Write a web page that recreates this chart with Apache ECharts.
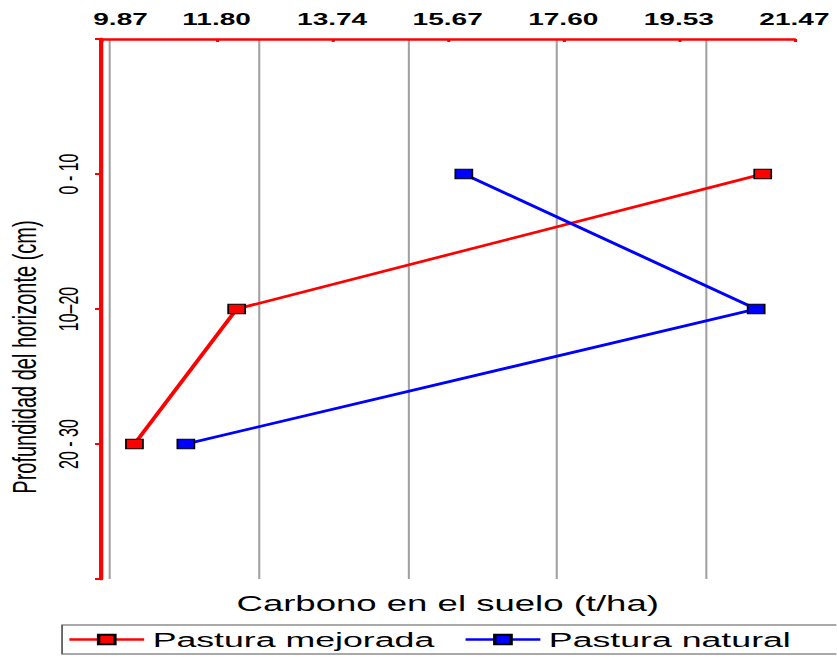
<!DOCTYPE html>
<html>
<head>
<meta charset="utf-8">
<script src="https://cdn.jsdelivr.net/npm/echarts@6/dist/echarts.min.js"></script>
<style>
  html, body { margin: 0; padding: 0; background: #ffffff; overflow: hidden; }
  /* the whole figure is drawn narrow and widened horizontally */
  #chart { width: 492.35px; height: 657px; transform: scaleX(1.7); transform-origin: 0 0; }
</style>
</head>
<body>
<div id="chart"></div>
<script>
// Depth horizons (category positions 1..3 on the depth axis)
const depthCategories = ['0 - 10', '10\u201320', '20 - 30'];
const depthPositions = [1, 2, 3];

// Soil carbon (t/ha) per horizon
const pasturaMejorada = [20.94, 12.14, 10.43];
const pasturaNatural = [15.94, 20.83, 11.29];

// Carbon axis: range and printed tick labels
const carbonMin = 9.87;
const carbonMax = 21.47;
const carbonTickLabels = ['9.87', '11.80', '13.74', '15.67', '17.60', '19.53', '21.47'];
const gridValues = [10, 12.5, 15, 17.5, 20];

const seriesNames = ['Pastura mejorada', 'Pastura natural'];
const seriesColors = ['#ff0000', '#0000ff'];

const FONT = "'Liberation Sans', Arial, sans-serif";
const TOP_LABEL = { color: '#000', fontFamily: FONT, fontWeight: 'bold', fontSize: 16.5 };

function pairs(values) {
  return values.map((v, i) => [v, depthPositions[i]]);
}

const chart = echarts.init(document.getElementById('chart'), null, { renderer: 'svg' });

chart.setOption({
  backgroundColor: '#ffffff',
  animation: false,
  grid: { left: 59.4, right: 24.7, top: 39, bottom: 78, containLabel: false, outerBoundsMode: 'none' },
  xAxis: [
    {
      type: 'value',
      position: 'top',
      min: carbonMin,
      max: carbonMax,
      interval: (carbonMax - carbonMin) / (carbonTickLabels.length - 1),
      axisLine: { show: true, lineStyle: { color: '#ff0000', width: 2.5 } },
      axisTick: { show: true, inside: true, length: 3, lineStyle: { color: '#ff0000', width: 1.8 } },
      axisLabel: Object.assign({}, TOP_LABEL, {
        margin: 11,
        showMinLabel: true, showMaxLabel: true, hideOverlap: false,
        // the first label sits just right of the depth axis
        formatter: (v, idx) => {
          const t = carbonTickLabels[idx];
          if (t === undefined) return '';
          return idx === 0 ? '{first|' + t + '}' : t;
        },
        rich: { first: Object.assign({}, TOP_LABEL, { padding: [0, 0, 0, 23] }) }
      }),
      splitLine: { show: false }
    },
    {
      type: 'value',
      position: 'bottom',
      min: carbonMin,
      max: carbonMax,
      name: 'Carbono en el suelo (t/ha)',
      nameLocation: 'middle',
      nameGap: 13,
      nameTextStyle: { color: '#000', fontFamily: FONT, fontSize: 21.5, verticalAlign: 'top' },
      axisLine: { show: false },
      axisTick: { show: false, customValues: gridValues },
      axisLabel: { show: false },
      splitLine: { show: true, lineStyle: { color: '#a0a0a0', width: 1.2 } }
    }
  ],
  yAxis: {
    type: 'value',
    inverse: true,
    min: 0,
    max: depthCategories.length + 1,
    interval: 1,
    name: 'Profundidad del horizonte (cm)',
    nameLocation: 'middle',
    nameGap: 35,
    nameTextStyle: { color: '#000', fontFamily: FONT, fontSize: 20, padding: [0, 96, 0, 0] },
    axisLine: { show: true, lineStyle: { color: '#ff0000', width: 2.5 } },
    axisTick: { show: true, inside: false, length: 3.5, lineStyle: { color: '#ff0000', width: 2 } },
    axisLabel: {
      color: '#000', fontFamily: FONT, fontSize: 16, rotate: 90, margin: 11,
      formatter: v => depthCategories[v - 1] || ''
    },
    splitLine: { show: false }
  },
  legend: {
    left: 36.5,
    top: 625,
    width: 600,
    orient: 'horizontal',
    padding: [4, 30, 4, 3],
    itemGap: 17,
    itemWidth: 44,
    itemHeight: 12,
    borderColor: '#555',
    borderWidth: 1,
    lineStyle: { width: 2.6 },
    textStyle: { color: '#000', fontFamily: FONT, fontSize: 21 },
    data: seriesNames
  },
  series: seriesNames.map((name, k) => ({
    name: name,
    type: 'line',
    xAxisIndex: 0,
    yAxisIndex: 0,
    data: pairs(k === 0 ? pasturaMejorada : pasturaNatural),
    symbol: 'rect',
    symbolSize: [10, 9.5],
    showSymbol: true,
    clip: false,
    lineStyle: { color: seriesColors[k], width: 2.6 },
    itemStyle: { color: seriesColors[k], borderColor: '#000', borderWidth: 1 }
  }))
});
</script>
</body>
</html>
